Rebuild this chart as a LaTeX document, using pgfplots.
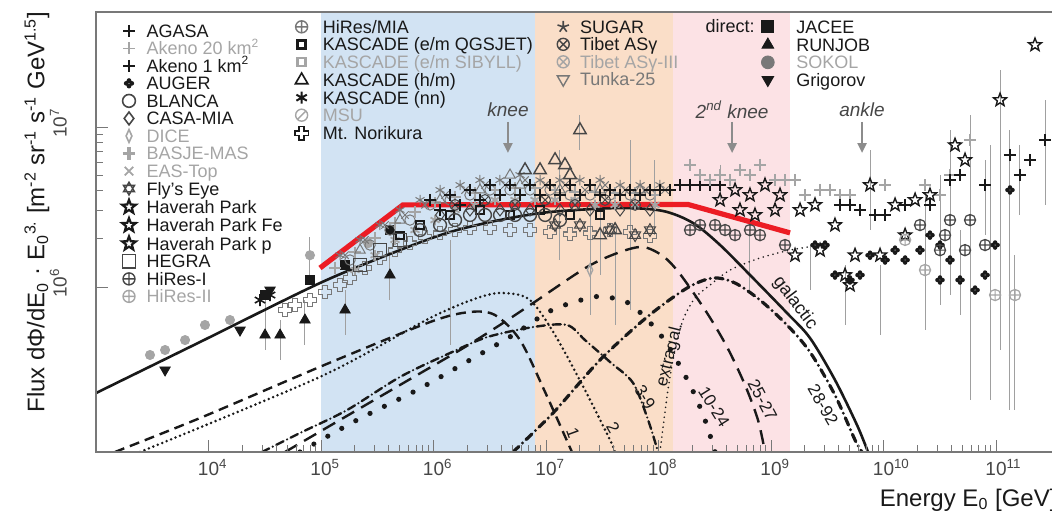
\documentclass[border=0pt]{standalone}
\usepackage{pgfplots}
\pgfplotsset{compat=1.18}
\usepackage{fontspec}
\setmainfont{Liberation Sans}
\usetikzlibrary{arrows.meta}
\definecolor{bandblue}{RGB}{210,227,243}
\definecolor{bandorange}{RGB}{250,222,200}
\definecolor{bandpink}{RGB}{252,226,229}
\definecolor{lgray}{RGB}{165,165,165}
\definecolor{mgray}{RGB}{120,120,120}
\definecolor{dgray}{RGB}{70,70,70}
\definecolor{ink}{RGB}{25,25,25}
\definecolor{arrowgray}{RGB}{140,140,140}
\definecolor{redline}{RGB}{236,28,36}
\definecolor{ebgray}{RGB}{160,160,160}
\newcommand\legfont{\fontsize{9pt}{9pt}\selectfont}
\newcommand\curvefont{\fontsize{8.5pt}{9pt}\selectfont}
\pgfdeclareplotmark{ostar}{%
\pgfpathmoveto{\pgfqpointpolar{90}{\pgfplotmarksize}}%
\pgfpathlineto{\pgfqpointpolar{126}{0.42\pgfplotmarksize}}%
\pgfpathlineto{\pgfqpointpolar{162}{\pgfplotmarksize}}%
\pgfpathlineto{\pgfqpointpolar{198}{0.42\pgfplotmarksize}}%
\pgfpathlineto{\pgfqpointpolar{234}{\pgfplotmarksize}}%
\pgfpathlineto{\pgfqpointpolar{270}{0.42\pgfplotmarksize}}%
\pgfpathlineto{\pgfqpointpolar{306}{\pgfplotmarksize}}%
\pgfpathlineto{\pgfqpointpolar{342}{0.42\pgfplotmarksize}}%
\pgfpathlineto{\pgfqpointpolar{18}{\pgfplotmarksize}}%
\pgfpathlineto{\pgfqpointpolar{54}{0.42\pgfplotmarksize}}%
\pgfpathclose\pgfusepathqstroke}
\pgfdeclareplotmark{sixstar}{%
\pgfpathmoveto{\pgfqpointpolar{90}{\pgfplotmarksize}}%
\pgfpathlineto{\pgfqpointpolar{210}{\pgfplotmarksize}}%
\pgfpathlineto{\pgfqpointpolar{330}{\pgfplotmarksize}}%
\pgfpathclose
\pgfpathmoveto{\pgfqpointpolar{270}{\pgfplotmarksize}}%
\pgfpathlineto{\pgfqpointpolar{30}{\pgfplotmarksize}}%
\pgfpathlineto{\pgfqpointpolar{150}{\pgfplotmarksize}}%
\pgfpathclose\pgfusepathqstroke}
\pgfdeclareplotmark{ocross}{%
\pgfpathmoveto{\pgfqpoint{0.35\pgfplotmarksize}{\pgfplotmarksize}}%
\pgfpathlineto{\pgfqpoint{0.35\pgfplotmarksize}{0.35\pgfplotmarksize}}%
\pgfpathlineto{\pgfqpoint{\pgfplotmarksize}{0.35\pgfplotmarksize}}%
\pgfpathlineto{\pgfqpoint{\pgfplotmarksize}{-0.35\pgfplotmarksize}}%
\pgfpathlineto{\pgfqpoint{0.35\pgfplotmarksize}{-0.35\pgfplotmarksize}}%
\pgfpathlineto{\pgfqpoint{0.35\pgfplotmarksize}{-\pgfplotmarksize}}%
\pgfpathlineto{\pgfqpoint{-0.35\pgfplotmarksize}{-\pgfplotmarksize}}%
\pgfpathlineto{\pgfqpoint{-0.35\pgfplotmarksize}{-0.35\pgfplotmarksize}}%
\pgfpathlineto{\pgfqpoint{-\pgfplotmarksize}{-0.35\pgfplotmarksize}}%
\pgfpathlineto{\pgfqpoint{-\pgfplotmarksize}{0.35\pgfplotmarksize}}%
\pgfpathlineto{\pgfqpoint{-0.35\pgfplotmarksize}{0.35\pgfplotmarksize}}%
\pgfpathlineto{\pgfqpoint{-0.35\pgfplotmarksize}{\pgfplotmarksize}}%
\pgfpathclose\pgfusepathqstroke}
\pgfdeclareplotmark{clover}{%
\pgfpathcircle{\pgfqpoint{0.5\pgfplotmarksize}{0pt}}{0.42\pgfplotmarksize}%
\pgfpathcircle{\pgfqpoint{-0.5\pgfplotmarksize}{0pt}}{0.42\pgfplotmarksize}%
\pgfpathcircle{\pgfqpoint{0pt}{0.5\pgfplotmarksize}}{0.42\pgfplotmarksize}%
\pgfpathcircle{\pgfqpoint{0pt}{-0.5\pgfplotmarksize}}{0.42\pgfplotmarksize}%
\pgfusepathqfill}
\pgfdeclareplotmark{oslash}{%
\pgfpathcircle{\pgfpointorigin}{\pgfplotmarksize}%
\pgfpathmoveto{\pgfqpointpolar{225}{\pgfplotmarksize}}%
\pgfpathlineto{\pgfqpointpolar{45}{\pgfplotmarksize}}%
\pgfusepathqstroke}
\pgfplotsset{
 legcol/.style={at={(0,0)}, anchor=south west, scale only axis, width=483.75pt, height=220pt,
  hide axis, xmin=0, xmax=1, ymin=0, ymax=1, legend cell align=left,
  legend image code/.code={\path (-4pt,-2pt) (4pt,2pt); \draw[##1] plot coordinates {(0pt,1.2pt)};},
  legend style={anchor=north west, draw=none, fill=none, inner sep=0pt, row sep=0pt,
   font=\legfont, text=ink, nodes={inner sep=0pt, text height=6.4pt, text depth=2.35pt}}},
 ebar/.style={ebgray, line width=0.5pt, unbounded coords=jump},
}
\begin{document}
\begin{tikzpicture}
\begin{axis}[at={(0,0)}, anchor=south west, scale only axis, width=483.75pt, height=220pt,
 xmode=log, ymode=log, xmin=1e3, xmax=3.98e11, ymin=9.31e4, ymax=5.236e7,
 axis on top, axis line style={mgray, line width=0.6pt},
 tick style={mgray, line width=0.5pt}, major tick length=6pt, minor tick length=3.5pt,
 tick pos=left, tick align=inside,
 xtick={1e4,1e5,1e6,1e7,1e8,1e9,1e10,1e11},
 xticklabels={10\rlap{\textsuperscript{4}},10\rlap{\textsuperscript{5}},10\rlap{\textsuperscript{6}},10\rlap{\textsuperscript{7}},10\rlap{\textsuperscript{8}},10\rlap{\textsuperscript{9}},10\rlap{\textsuperscript{10}},10\rlap{\textsuperscript{11}}},
 ytick={1e6,1e7}, yticklabels={10\rlap{\textsuperscript{6}},10\rlap{\textsuperscript{7}}},
 ticklabel style={font=\fontsize{9.5pt}{10pt}\selectfont, text=dgray},
 yticklabel style={rotate=90, anchor=south}, yticklabel shift=11pt,
 xlabel={Energy E\textsubscript{0} [GeV]},
 ylabel={Flux dΦ/dE\textsubscript{0} · E\textsubscript{0}\textsuperscript{3.} [m\textsuperscript{-2} sr\textsuperscript{-1} s\textsuperscript{-1} GeV\textsuperscript{1.5}]},
 label style={font=\fontsize{12pt}{13pt}\selectfont, text=ink},
 xlabel style={at={(axis description cs:1,-0.109)}, anchor=east},
 ylabel style={at={(axis description cs:-0.0610,0.545)}, anchor=center},
]
\fill[bandblue] (axis cs:1e5,9.31e4) rectangle (axis cs:7.98e6,5.236e7);
\fill[bandorange] (axis cs:7.98e6,9.31e4) rectangle (axis cs:1.345e8,5.236e7);
\fill[bandpink] (axis cs:1.345e8,9.31e4) rectangle (axis cs:1.476e9,5.236e7);
% error bars
\addplot[ebar] coordinates {
(7.98e4,2.05e6)(7.98e4,1.106e6)(nan,nan)
(3.18e4,9.57e5)(3.18e4,4.04e5)(nan,nan)
(4.325e4,6.22e5)(4.325e4,3.5e5)(nan,nan)
(7.2e4,8.29e5)(7.2e4,4.34e5)(nan,nan)
(1.635e5,9.57e5)(1.635e5,5.01e5)(nan,nan)
(4.102e5,1.58e6)(4.102e5,8.29e5)(nan,nan)
(1.403e6,1.97e6)(1.403e6,4.34e5)(nan,nan)
(2.46e7,3.03e6)(2.46e7,6.68e5)(nan,nan)
(3.02e7,3.03e6)(3.02e7,1.188e6)(nan,nan)
(4.11e7,2.17e6)(4.11e7,5.79e5)(nan,nan)
(5.585e7,8.29e6)(5.585e7,7.18e5)(nan,nan)
(9.3e7,6.22e6)(9.3e7,2.11e6)(nan,nan)
(1.33e7,7.18e6)(1.33e7,1.475e6)(nan,nan)
(2.004e7,1.188e7)(2.004e7,7.18e6)(nan,nan)
(3.524e8,5.79e6)(3.524e8,3.5e6)(nan,nan)
(6.501e8,2.27e6)(6.501e8,9.57e5)(nan,nan)
(2.223e9,1.83e6)(2.223e9,9.57e5)(nan,nan)
(4.55e9,1.372e6)(4.55e9,5.79e5)(nan,nan)
(9.31e9,1.372e6)(9.31e9,5.01e5)(nan,nan)
(2.337e10,3.76e6)(2.337e10,5.38e5)(nan,nan)
(3.177e10,5.01e6)(3.177e10,7.71e5)(nan,nan)
(3.899e10,9.57e6)(3.899e10,8.91e5)(nan,nan)
(4.786e10,2.27e6)(4.786e10,6.68e5)(nan,nan)
(5.875e10,1.188e7)(5.875e10,1.97e5)(nan,nan)
(8.851e10,7.71e6)(8.851e10,1.97e5)(nan,nan)
(1.086e11,2.27e7)(1.086e11,4.04e5)(nan,nan)
(1.33e11,9.57e6)(1.33e11,1.70e5)(nan,nan)
(1.474e11,1.58e6)(1.474e11,1.70e5)(nan,nan)
(1.633e11,7.71e6)(1.633e11,2.82e6)(nan,nan)
(2.73e11,1.475e7)(2.73e11,3.26e6)(nan,nan)
(7.586e9,7.18e6)(7.586e9,2.27e6)(nan,nan)
(7.99e10,6.22e6)(7.99e10,2.11e6)
};
% model curves
\addplot[ink, line width=1.3pt, smooth] coordinates {(1e3,2.174e5)(8.395e3,4.53e5)(9.79e4,1.059e6)(5.035e5,1.702e6)(1.403e6,2.206e6)(3.899e6,2.624e6)(1.086e7,2.944e6)(4.55e7,3.118e6)(1.095e8,2.987e6)(2.025e8,2.513e6)(3.524e8,1.831e6)(6.91e8,1.138e6)(1.387e9,6.877e5)(2.223e9,4.795e5)(3.703e9,2.624e5)(5.81e9,1.373e5)(7.28e9,9.31e4)};
\addplot[ink, line width=1.2pt, smooth, dash pattern=on 5pt off 3pt] coordinates {(1.474e3,9.31e4)(8.395e3,1.517e5)(1.02e5,3.21e5)(9.31e5,6.04e5)(2.109e6,6.98e5)(3.52e6,6.68e5)(5.875e6,4.66e5)(9.81e6,2.206e5)(1.70e7,9.31e4)};
\addplot[ink, line width=1.4pt, smooth, line cap=round, dash pattern=on 0pt off 2.4pt] coordinates {(2.46e3,9.31e4)(1.02e5,2.78e5)(9.31e5,6.40e5)(2.588e6,8.65e5)(4.32e6,9.17e5)(7.211e6,8.29e5)(1.203e7,5.01e5)(2.22e7,2.27e5)(3.707e7,1.106e5)(4.11e7,9.31e4)};
\addplot[ink, line width=1.2pt, smooth, line cap=round, dash pattern=on 4pt off 2pt on 0pt off 2pt] coordinates {(2.99e4,9.31e4)(6.501e4,1.223e5)(1.703e5,1.702e5)(5.035e5,2.74e5)(1.403e6,3.87e5)(2.99e6,4.86e5)(7.67e6,5.62e5)(1.535e7,5.79e5)(2.22e7,4.66e5)(3.707e7,3.4e5)(5.94e7,2.513e5)(8.08e7,1.475e5)(9.9e7,9.31e4)};
\addplot[ink, line width=2.6pt, smooth, line cap=round, dash pattern=on 0pt off 8pt] coordinates {(6.501e4,9.31e4)(2.09e5,1.475e5)(7.13e5,2.27e5)(2.109e6,3.5e5)(5.09e6,5.01e5)(1.131e7,7.18e5)(2.615e7,8.65e5)(3.94e7,8.53e5)(5.94e7,7.6e5)(1.095e8,4.795e5)(1.905e8,2.442e5)(2.59e8,1.475e5)(3.18e8,9.31e4)};
\addplot[ink, line width=1.2pt, smooth, dash pattern=on 7pt off 4pt] coordinates {(4.79e4,9.31e4)(5.035e5,2.442e5)(1.722e6,4.04e5)(3.899e6,5.79e5)(7.67e6,7.94e5)(2.313e7,1.333e6)(4.55e7,1.654e6)(7.29e7,1.779e6)(1.095e8,1.561e6)(1.552e8,1.206e6)(2.7e8,6.88e5)(4.07e8,4.21e5)(5.87e8,2.442e5)(7.66e8,1.475e5)(8.84e8,9.31e4)};
\addplot[ink, line width=1.6pt, smooth, line cap=round, dash pattern=on 4pt off 2.5pt on 0pt off 2.5pt] coordinates {(5.09e6,9.31e4)(1.154e7,1.63e5)(3.02e7,3.5e5)(7.91e7,6.49e5)(1.791e8,9.85e5)(3.05e8,1.138e6)(4.79e8,1.059e6)(7.98e8,8.29e5)(1.387e9,5.79e5)(2.223e9,3.92e5)(3.703e9,2.11e5)(5.58e9,1.106e5)(6.44e9,9.31e4)};
\addplot[ink, line width=0.9pt, smooth, line cap=round, dash pattern=on 0pt off 2.5pt] coordinates {(1.03e8,9.31e4)(1.118e8,1.475e5)(1.213e8,2.27e5)(1.373e8,3.76e5)(1.65e8,6.22e5)(2.11e8,8.53e5)(2.871e8,1.029e6)(4.325e8,1.277e6)(7.98e8,1.518e6)(1.476e9,1.70e6)(2.729e9,1.83e6)};
% direct measurements
\addplot[only marks, mark=*, mark size=2.3pt, lgray] coordinates {(3.02e3,3.76e5)(4.11e3,4.04e5)(6.19e3,4.66e5)(9.30e3,5.79e5)(1.552e4,6.22e5)(7.98e4,1.58e6)(2.62e5,1.88e6)};
\addplot[only marks, mark=triangle*, mark options={rotate=180}, mark size=3pt, ink] coordinates {(4.11e3,3.03e5)(1.905e4,5.38e5)(3.524e4,9.57e5)};
\addplot[only marks, mark=triangle*, mark size=3pt, ink] coordinates {(3.18e4,5.01e5)(4.325e4,5.01e5)(7.2e4,6.22e5)(1.635e5,7.18e5)(4.102e5,1.188e6)};
\addplot[only marks, mark=square*, mark size=2.3pt, ink] coordinates {(3.18e4,8.91e5)(7.98e4,1.106e6)(1.635e5,1.372e6)(4.102e5,2.27e6)};
\addplot[only marks, mark=asterisk, mark size=3pt, ink, line width=0.8pt] coordinates {(2.871e4,8.29e5)(3.524e4,8.91e5)};
% Mt. Norikura
\addplot[only marks, mark=ocross, mark size=3.2pt, mgray, line width=0.6pt] coordinates {(4.79e4,7.18e5)(5.87e4,7.71e5)(7.98e4,8.29e5)(1.085e5,9.3e5)(1.476e5,1.029e6)(1.811e5,1.138e6)(2.46e5,1.314e6)(3.342e5,1.518e6)(4.55e5,1.70e6)(6.18e5,1.88e6)(8.41e5,2.05e6)(1.143e6,2.17e6)(1.555e6,2.27e6)(2.109e6,2.34e6)(3.177e6,2.34e6)(4.786e6,2.27e6)(7.211e6,2.27e6)(1.086e7,2.21e6)(1.633e7,2.14e6)(2.46e7,2.17e6)(3.707e7,2.27e6)(5.585e7,2.21e6)(8.395e7,2.08e6)};
% knee cloud
\addplot[only marks, mark=asterisk, mark size=2.6pt, mgray, line width=0.5pt] coordinates {(1.476e5,1.58e6)(2.223e5,1.97e6)(3.342e5,2.44e6)(5.035e5,3.03e6)(7.586e5,3.5e6)(1.143e6,4.04e6)(1.722e6,4.34e6)(2.588e6,4.66e6)(3.899e6,4.66e6)(5.875e6,5.01e6)(8.851e6,4.66e6)(1.33e7,4.66e6)(2.004e7,4.66e6)(3.02e7,4.66e6)(4.55e7,4.34e6)(6.855e7,4.34e6)(1.03e8,4.34e6)};
\addplot[only marks, mark=o, mark size=2.6pt, mgray, line width=0.5pt] coordinates {(1.811e5,1.475e6)(2.729e5,1.83e6)(4.102e5,2.27e6)(6.18e5,2.62e6)(9.31e5,3.26e6)(1.403e6,3.5e6)(2.109e6,3.76e6)(3.177e6,4.04e6)(4.786e6,4.04e6)(7.211e6,4.04e6)(1.086e7,4.04e6)(1.633e7,3.76e6)(2.46e7,3.76e6)(3.707e7,3.76e6)(5.585e7,3.76e6)(8.395e7,3.76e6)};
\addplot[only marks, mark=x, mark size=2.6pt, mgray, line width=0.5pt] coordinates {(1.635e5,1.58e6)(2.46e5,1.97e6)(3.703e5,2.44e6)(5.58e5,2.82e6)(8.41e5,3.26e6)(1.266e6,3.76e6)(1.908e6,4.04e6)(2.868e6,4.34e6)(4.32e6,4.34e6)(6.51e6,4.66e6)(9.81e6,4.34e6)(1.474e7,4.34e6)(2.22e7,4.04e6)(3.346e7,4.34e6)(5.04e7,4.04e6)(7.6e7,4.04e6)(1.141e8,4.04e6)};
\addplot[only marks, mark=+, mark size=2.8pt, lgray, line width=1.2pt] coordinates {(1.332e5,1.314e6)(2.007e5,1.65e6)(3.024e5,2.03e6)(4.55e5,2.51e6)(6.85e5,2.94e6)(1.032e6,3.38e6)(1.555e6,3.65e6)(2.337e6,3.87e6)(3.52e6,4.04e6)(5.30e6,4.16e6)(7.99e6,4.16e6)(1.203e7,4.04e6)(1.809e7,3.93e6)(2.726e7,3.93e6)(4.11e7,3.87e6)(6.19e7,3.87e6)(9.3e7,3.76e6)};
\addplot[only marks, mark=asterisk, mark size=2.6pt, lgray, line width=0.9pt] coordinates {(2.007e5,1.277e6)(3.024e5,1.58e6)(4.55e5,1.97e6)(6.85e5,2.27e6)(1.032e6,2.62e6)(1.555e6,3.03e6)(2.337e6,3.26e6)(3.52e6,3.5e6)(5.30e6,3.5e6)(7.99e6,3.5e6)(1.203e7,3.5e6)(1.809e7,3.5e6)(2.726e7,3.26e6)(4.11e7,3.26e6)(6.19e7,3.26e6)(9.3e7,3.26e6)};
\addplot[only marks, mark=triangle, mark size=3pt, mgray, line width=0.5pt] coordinates {(2.223e5,1.70e6)(5.035e5,2.62e6)(1.143e6,3.5e6)(2.588e6,4.04e6)(4.786e6,5.01e6)(5.875e6,4.34e6)(1.33e7,4.04e6)(3.02e7,4.04e6)(6.855e7,4.04e6)};
\addplot[only marks, mark=diamond, mark size=3pt, dgray, line width=0.5pt] coordinates {(1.143e6,2.82e6)(2.109e6,3.03e6)(3.899e6,3.03e6)(7.211e6,3.03e6)(1.33e7,3.03e6)(2.46e7,3.03e6)(4.55e7,3.03e6)(8.395e7,3.03e6)};
\addplot[only marks, mark=otimes, mark size=2.7pt, dgray, line width=0.5pt] coordinates {(1.555e6,3.26e6)(2.868e6,3.5e6)(5.30e6,3.26e6)(9.81e6,3.5e6)(1.809e7,3.26e6)(3.346e7,3.5e6)(6.19e7,3.26e6)};
\addplot[only marks, mark=square, mark size=1.8pt, ink, line width=1pt] coordinates {(5.035e5,2.11e6)(7.586e5,2.44e6)(1.403e6,2.82e6)(2.588e6,3.03e6)(4.786e6,2.82e6)(8.851e6,3.03e6)(1.633e7,2.82e6)(3.02e7,2.82e6)};
\addplot[only marks, mark=square, mark size=3.3pt, dgray, line width=0.5pt] coordinates {(2.223e5,1.372e6)(3.342e5,1.70e6)(5.035e5,1.97e6)};
\addplot[only marks, mark=o, mark size=3.2pt, dgray, line width=0.7pt] coordinates {(7.586e5,2.27e6)(1.143e6,2.44e6)(1.555e6,2.62e6)(2.109e6,2.82e6)(2.868e6,2.82e6)(3.899e6,2.82e6)(5.30e6,2.82e6)(7.211e6,2.82e6)(9.81e6,2.82e6)(1.33e7,2.62e6)};
\addplot[only marks, mark=+, mark size=3pt, ink, line width=0.8pt] coordinates {(9.31e5,3.5e6)(1.143e6,3.03e6)(1.403e6,3.76e6)(1.722e6,3.26e6)(2.109e6,4.04e6)(2.588e6,3.5e6)(3.177e6,4.34e6)(3.899e6,3.76e6)(4.786e6,4.34e6)(5.875e6,3.76e6)(7.211e6,4.34e6)(8.851e6,3.76e6)(1.086e7,4.34e6)(1.33e7,3.76e6)(1.633e7,4.34e6)(2.004e7,3.76e6)(2.46e7,4.34e6)(3.02e7,3.76e6)(3.707e7,4.04e6)(4.55e7,3.76e6)(5.585e7,4.04e6)(6.855e7,3.76e6)(8.395e7,4.04e6)(1.03e8,4.04e6)(1.265e8,4.04e6)(1.552e8,4.34e6)(1.905e8,4.34e6)(2.339e8,4.34e6)(2.871e8,4.34e6)(3.524e8,4.34e6)};
\addplot[only marks, mark=triangle, mark size=3.6pt, dgray, line width=0.7pt] coordinates {(6.51e6,5.38e6)(8.851e6,5.38e6)(1.203e7,6.22e6)(1.474e7,5.79e6)(1.633e7,5.01e6)(2.004e7,9.57e6)(3.02e7,2.11e6)(4.11e7,2.27e6)};
\addplot[only marks, mark=diamond, mark size=3pt, lgray, mark options={xscale=0.6}, line width=0.7pt] coordinates {(2.46e7,1.277e6)};
\addplot[only marks, mark=sixstar, mark size=3.2pt, dgray, line width=0.5pt] coordinates {(1.203e7,2.44e6)(2.004e7,2.44e6)(3.707e7,2.27e6)(6.19e7,2.11e6)(8.395e7,2.27e6)};
% ankle region
\addplot[only marks, mark=+, mark size=3pt, lgray, line width=0.8pt] coordinates {(1.905e8,5.79e6)(2.339e8,5.01e6)(2.871e8,4.66e6)(3.524e8,5.01e6)(4.325e8,4.66e6)(5.297e8,5.38e6)(6.501e8,5.01e6)(7.98e8,5.79e6)(1.085e9,4.66e6)(1.332e9,4.66e6)(1.635e9,4.66e6)(2.0e9,3.76e6)(2.729e9,4.04e6)(3.342e9,4.04e6)(4.102e9,3.76e6)(5.035e9,3.76e6)(1.032e10,4.34e6)(2.337e10,4.34e6)(3.177e10,3.76e6)(3.899e10,5.01e6)(5.875e10,8.29e6)};
\addplot[only marks, mark=+, mark size=3pt, ink, line width=0.8pt] coordinates {(4.102e9,3.26e6)(5.035e9,3.26e6)(6.18e9,3.03e6)(8.41e9,2.82e6)(1.032e10,2.82e6)(1.555e10,3.26e6)(2.588e10,3.26e6)(3.899e10,4.66e6)(4.786e10,5.01e6)(7.99e10,4.34e6)(1.33e11,6.68e6)(1.633e11,5.01e6)(2.004e11,6.22e6)(2.73e11,8.29e6)};
\addplot[only marks, mark=ostar, mark size=3.4pt, ink, line width=0.7pt] coordinates {(3.524e8,3.5e6)(4.79e8,4.04e6)(6.501e8,3.76e6)(8.84e8,4.34e6)(1.202e9,3.76e6)(5.297e8,3.03e6)(7.2e8,2.82e6)(1.085e9,3.03e6)(1.811e9,3.03e6)(2.46e9,3.26e6)(3.703e9,2.44e6)(7.586e9,4.34e6)(1.266e10,3.26e6)(1.908e10,3.5e6)(2.588e10,3.76e6)(4.32e10,7.71e6)(5.30e10,6.22e6)(1.086e11,1.475e7)(2.22e11,3.26e7)(4.55e9,1.188e6)(1.635e9,1.58e6)(5.035e9,1.029e6)(2.729e9,1.70e6)(9.31e9,1.58e6)(1.555e10,2.11e6)(5.58e9,1.58e6)};
\addplot[only marks, mark=clover, mark size=2.6pt, ink] coordinates {(2.46e9,1.83e6)(3.02e9,1.83e6)(3.703e9,1.188e6)(5.035e9,1.106e6)(6.18e9,1.188e6)(7.586e9,1.58e6)(1.032e10,1.475e6)(1.266e10,1.70e6)(1.555e10,1.475e6)(2.109e10,1.70e6)(2.588e10,2.11e6)(3.177e10,1.83e6)(3.899e10,1.475e6)(3.177e10,1.106e6)(4.786e10,1.106e6)(6.51e10,9.57e5)(7.99e10,1.188e6)(9.81e10,1.83e6)(1.33e11,4.04e6)};
\addplot[only marks, mark=oplus, mark size=2.8pt, dgray, line width=0.6pt] coordinates {(1.905e8,2.27e6)(2.339e8,2.44e6)(3.18e8,2.44e6)(3.905e8,2.27e6)(4.79e8,2.11e6)(6.501e8,2.27e6)(7.98e8,2.11e6)(1.332e9,1.83e6)(2.109e10,2.44e6)(3.899e10,2.62e6)(5.875e10,2.62e6)(3.177e10,1.70e6)(5.30e10,1.70e6)(7.99e10,1.83e6)(3.52e10,2.11e6)};
\addplot[only marks, mark=oplus, mark size=2.8pt, lgray, line width=0.6pt] coordinates {(1.555e10,1.97e6)(2.337e10,1.277e6)(9.81e10,8.91e5)(1.474e11,8.91e5)};
% red line
\addplot[redline, line width=2.6pt] coordinates {(9.79e4,1.315e6)(5.35e5,3.26e6)(1.83e8,3.28e6)(1.476e9,2.18e6)};
% annotations
\draw[arrowgray, line width=1.2pt, -{Triangle[length=5pt,width=4.5pt]}] (axis cs:4.59e6,1.075e7) -- (axis cs:4.59e6,6.88e6);
\draw[arrowgray, line width=1.2pt, -{Triangle[length=5pt,width=4.5pt]}] (axis cs:4.51e8,1.075e7) -- (axis cs:4.51e8,6.88e6);
\draw[arrowgray, line width=1.2pt, -{Triangle[length=5pt,width=4.5pt]}] (axis cs:6.44e9,1.075e7) -- (axis cs:6.44e9,6.88e6);
\node[font=\fontsize{9.5pt}{10pt}\selectfont\itshape, text=dgray] at (axis cs:4.59e6,1.277e7) {knee};
\node[font=\fontsize{9.5pt}{10pt}\selectfont\itshape, text=dgray] at (axis cs:4.51e8,1.277e7) {2\textsuperscript{nd} knee};
\node[font=\fontsize{9.5pt}{10pt}\selectfont\itshape, text=dgray] at (axis cs:6.44e9,1.277e7) {ankle};
\node[font=\curvefont, text=ink, rotate=-70, inner sep=0pt] at (axis cs:1.736e7,1.223e5) {1};
\node[font=\curvefont, text=ink, rotate=-60, inner sep=0pt] at (axis cs:3.94e7,1.314e5) {2};
\node[font=\curvefont, text=ink, rotate=-60, inner sep=0pt] at (axis cs:7.6e7,2.055e5) {3-9};
\node[font=\curvefont, text=ink, rotate=76, inner sep=0pt] at (axis cs:1.265e8,3.76e5) {extragal.};
\node[font=\curvefont, text=ink, rotate=-58, inner sep=0pt] at (axis cs:3.115e8,1.777e5) {10-24};
\node[font=\curvefont, text=ink, rotate=-62, inner sep=0pt] at (axis cs:8.4e8,1.97e5) {25-27};
\node[font=\fontsize{9pt}{10pt}\selectfont, text=ink, rotate=-53, inner sep=0pt] at (axis cs:1.635e9,7.94e5) {galactic};
\node[font=\curvefont, text=ink, rotate=-60, inner sep=0pt] at (axis cs:2.9e9,1.834e5) {28-92};
\node[anchor=base east, font=\legfont, text=ink, inner sep=0pt] at (rel axis cs:0.6811,0.9525) {direct:};
\end{axis}
% legend column 1
\begin{axis}[legcol, legend style={at={(0.02377,0.9725)}, /tikz/every odd column/.append style={column sep=4pt}}]
\addlegendimage{only marks, mark=+, mark size=3pt, ink, line width=0.7pt}\addlegendentry{AGASA}
\addlegendimage{only marks, mark=+, mark size=3pt, lgray, line width=0.7pt}\addlegendentry{\textcolor{lgray}{Akeno 20 km\textsuperscript{2}}}
\addlegendimage{only marks, mark=+, mark size=3pt, ink, line width=1pt}\addlegendentry{Akeno 1 km\textsuperscript{2}}
\addlegendimage{only marks, mark=clover, mark size=2.8pt, ink}\addlegendentry{AUGER}
\addlegendimage{only marks, mark=o, mark size=3.2pt, dgray, line width=0.8pt}\addlegendentry{BLANCA}
\addlegendimage{only marks, mark=diamond, mark size=3.2pt, dgray, line width=0.8pt}\addlegendentry{CASA-MIA}
\addlegendimage{only marks, mark=diamond, mark size=3.2pt, lgray, mark options={xscale=0.6}, line width=0.8pt}\addlegendentry{\textcolor{lgray}{DICE}}
\addlegendimage{only marks, mark=+, mark size=3.2pt, lgray, line width=1.6pt}\addlegendentry{\textcolor{lgray}{BASJE-MAS}}
\addlegendimage{only marks, mark=x, mark size=3pt, lgray, line width=0.9pt}\addlegendentry{\textcolor{lgray}{EAS-Top}}
\addlegendimage{only marks, mark=sixstar, mark size=3.2pt, dgray, line width=0.7pt}\addlegendentry{Fly's Eye}
\addlegendimage{only marks, mark=ostar, mark size=3.6pt, ink, line width=1.1pt}\addlegendentry{Haverah Park}
\addlegendimage{only marks, mark=ostar, mark size=3.6pt, ink, line width=1.1pt}\addlegendentry{Haverah Park Fe}
\addlegendimage{only marks, mark=ostar, mark size=3.6pt, ink, line width=1.1pt}\addlegendentry{Haverah Park p}
\addlegendimage{only marks, mark=square, mark size=3.3pt, dgray, line width=0.6pt}\addlegendentry{HEGRA}
\addlegendimage{only marks, mark=oplus, mark size=3pt, dgray, line width=0.7pt}\addlegendentry{HiRes-I}
\addlegendimage{only marks, mark=oplus, mark size=3pt, lgray, line width=0.7pt}\addlegendentry{\textcolor{lgray}{HiRes-II}}
\end{axis}
% legend column 2
\begin{axis}[legcol, legend style={at={(0.2026,0.9816)}, /tikz/every odd column/.append style={column sep=6pt}}]
\addlegendimage{only marks, mark=oplus, mark size=3pt, mgray, line width=0.7pt}\addlegendentry{HiRes/MIA}
\addlegendimage{only marks, mark=square, mark size=2pt, ink, line width=1.2pt}\addlegendentry{KASCADE (e/m QGSJET)}
\addlegendimage{only marks, mark=square, mark size=2pt, lgray, line width=1.2pt}\addlegendentry{\textcolor{lgray}{KASCADE (e/m SIBYLL)}}
\addlegendimage{only marks, mark=triangle, mark size=3.6pt, ink, line width=0.8pt}\addlegendentry{KASCADE (h/m)}
\addlegendimage{only marks, mark=asterisk, mark size=3pt, ink, line width=1pt}\addlegendentry{KASCADE (nn)}
\addlegendimage{only marks, mark=oslash, mark size=3pt, lgray, line width=0.7pt}\addlegendentry{\textcolor{lgray}{MSU}}
\addlegendimage{only marks, mark=ocross, mark size=3.4pt, ink, line width=0.8pt}\addlegendentry{Mt. Norikura}
\end{axis}
% legend column 3
\begin{axis}[legcol, legend style={at={(0.4734,0.9816)}, /tikz/every odd column/.append style={column sep=4pt}}]
\addlegendimage{only marks, mark=star, mark size=3pt, dgray, line width=0.8pt}\addlegendentry{SUGAR}
\addlegendimage{only marks, mark=otimes, mark size=3pt, dgray, line width=0.7pt}\addlegendentry{Tibet ASγ}
\addlegendimage{only marks, mark=otimes, mark size=3pt, lgray, line width=0.7pt}\addlegendentry{\textcolor{lgray}{Tibet ASγ-III}}
\addlegendimage{only marks, mark=triangle, mark options={rotate=180}, mark size=3.4pt, mgray, line width=0.7pt}\addlegendentry{\textcolor{mgray}{Tunka-25}}
\end{axis}
% legend column 4
\begin{axis}[legcol, legend style={at={(0.6853,0.9816)}, /tikz/every odd column/.append style={column sep=10pt}}]
\addlegendimage{only marks, mark=square*, mark size=3pt, ink}\addlegendentry{JACEE}
\addlegendimage{only marks, mark=triangle*, mark size=3.4pt, ink}\addlegendentry{RUNJOB}
\addlegendimage{only marks, mark=*, mark size=3.2pt, mgray}\addlegendentry{\textcolor{lgray}{SOKOL}}
\addlegendimage{only marks, mark=triangle*, mark options={rotate=180}, mark size=3.4pt, ink}\addlegendentry{Grigorov}
\end{axis}
\pgfresetboundingbox
\path (-48pt,-35pt) rectangle (478pt,226pt);
\end{tikzpicture}
\end{document}
